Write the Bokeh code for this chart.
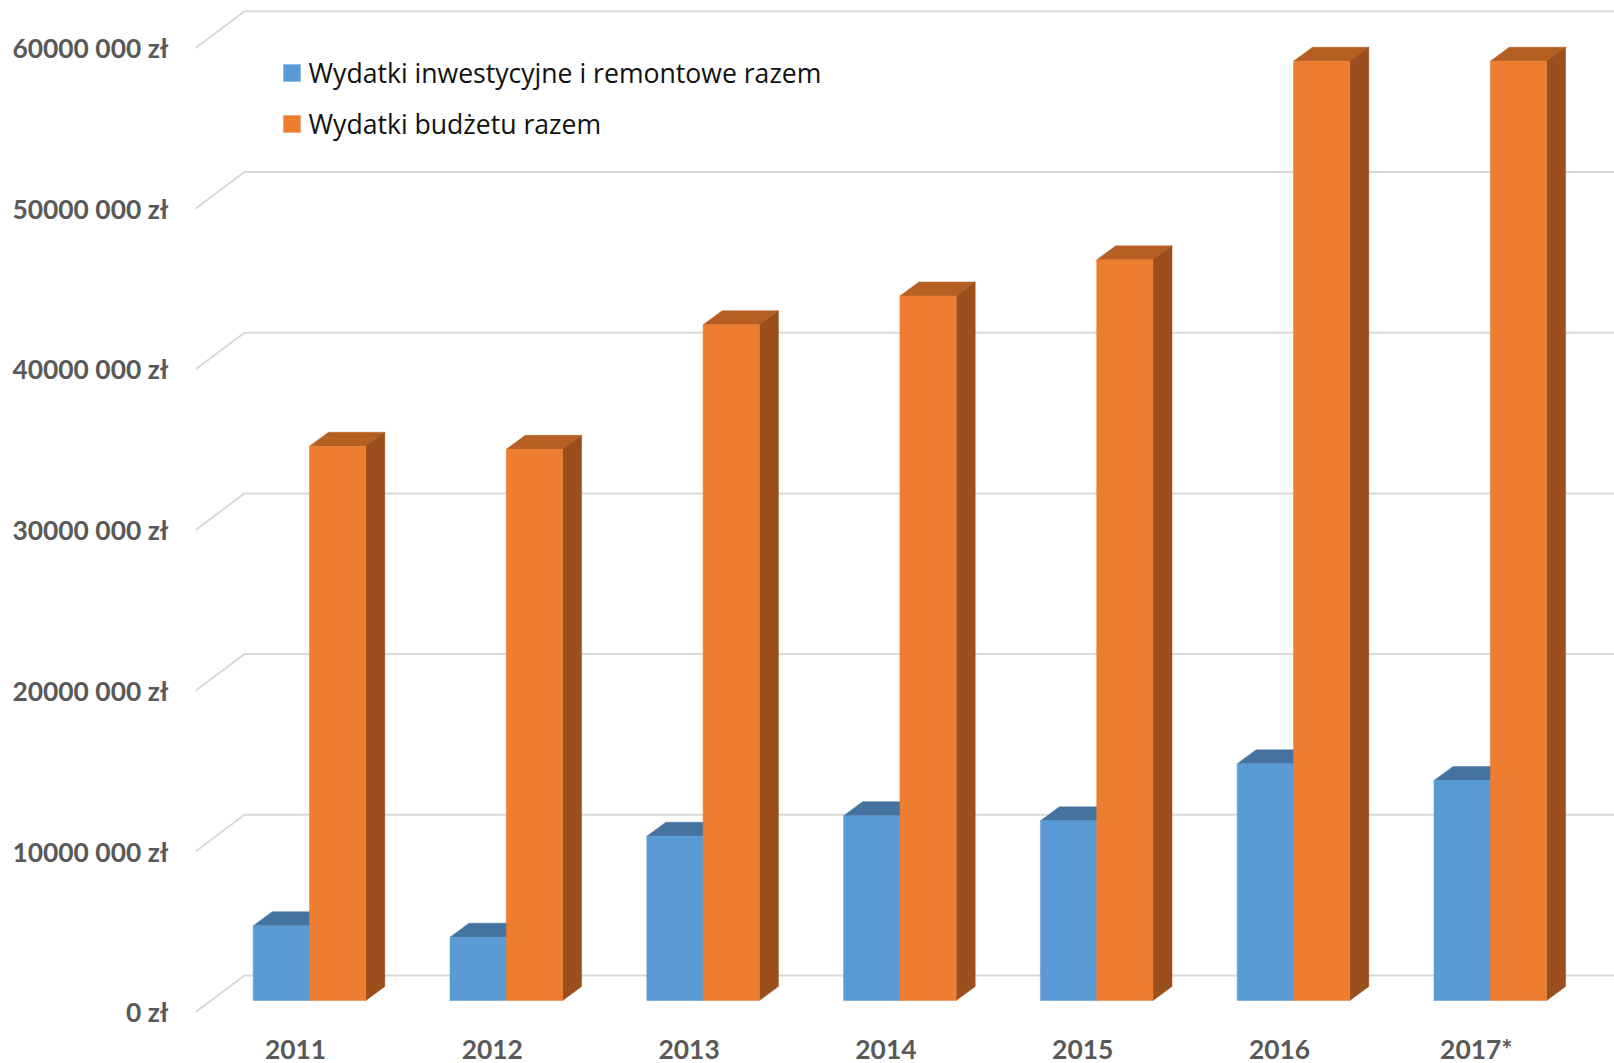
from bokeh.plotting import figure
from bokeh.models import Range1d, LinearAxis, FixedTicker, Legend, LegendItem
from bokeh.embed import file_html
from bokeh.resources import INLINE

years = ["2011", "2012", "2013", "2014", "2015", "2016", "2017*"]
invest = [4.65e6, 3.94e6, 10.22e6, 11.50e6, 11.18e6, 14.73e6, 13.69e6]
budget = [34.49e6, 34.30e6, 42.05e6, 43.84e6, 46.09e6, 58.45e6, 58.45e6]
y_ticks = [0, 10e6, 20e6, 30e6, 40e6, 50e6, 60e6]
y_labels = ["0 zł", "10000 000 zł", "20000 000 zł", "30000 000 zł",
            "40000 000 zł", "50000 000 zł", "60000 000 zł"]
series_names = ["Wydatki inwestycyjne i remontowe razem", "Wydatki budżetu razem"]

# scale: pixels per unit
PX_X = 196.8            # px per category
PX_Y = 160.7 / 1e7      # px per zł
W, H = 1614, 1063
LEFT, BOTTOM_M = 195, 0
f_left, f_right = LEFT, W
f_top, f_bot = 0, H - BOTTOM_M

ORIGIN_X, ORIGIN_Y = 309.0, 1000.0     # page position of group 0, value 0 (bar front plane)
AXIS_X, AXIS_Y = 295.0, 1011.7         # the same for the axis labels (chart's front edge)
X_AXIS_PAGE_Y = 1023.0

xr = Range1d((f_left - ORIGIN_X) / PX_X, (f_right - ORIGIN_X) / PX_X)
yr = Range1d(-(f_bot - ORIGIN_Y) / PX_Y, (ORIGIN_Y - f_top) / PX_Y)

p = figure(width=W, height=H, x_range=xr, y_range=yr, output_backend="svg",
           toolbar_location=None, min_border_left=LEFT, min_border_right=0,
           min_border_top=0, min_border_bottom=BOTTOM_M,
           x_axis_type=None, y_axis_type=None,
           background_fill_color="white", border_fill_color="white")
p.outline_line_color = None
p.grid.visible = False

p.extra_x_ranges["front"] = Range1d((f_left - AXIS_X) / PX_X, (f_right - AXIS_X) / PX_X)
p.extra_y_ranges["front"] = Range1d(-(f_bot - AXIS_Y) / PX_Y, (AXIS_Y - f_top) / PX_Y)

TEXT_FONT = "Lato"
yax = LinearAxis(y_range_name="front", ticker=FixedTicker(ticks=y_ticks),
                 major_label_overrides=dict(zip(y_ticks, y_labels)))
xax = LinearAxis(x_range_name="front", ticker=FixedTicker(ticks=list(range(len(years)))),
                 major_label_overrides=dict(enumerate(years)),
                 fixed_location=-(X_AXIS_PAGE_Y - ORIGIN_Y) / PX_Y)
for ax in (yax, xax):
    ax.axis_line_color = None
    ax.major_tick_line_color = None
    ax.minor_tick_line_color = None
    ax.major_label_text_font = TEXT_FONT
    ax.major_label_text_font_style = "bold"
    ax.major_label_text_font_size = "26.4px"
    ax.major_label_text_color = "#595959"
yax.major_label_standoff = 21
xax.major_label_standoff = 3
p.add_layout(yax, "left")
p.add_layout(xax, "below")

# walls: floor-to-wall gridlines
front_dy, back_dy = -(AXIS_Y - ORIGIN_Y) / PX_Y, (ORIGIN_Y - 975.0) / PX_Y
x_front, x_back = (195.0 - ORIGIN_X) / PX_X, (244.0 - ORIGIN_X) / PX_X
xs, ys = [], []
for t in y_ticks:
    xs.append([x_front, x_back, xr.end])
    ys.append([t + front_dy, t + back_dy, t + back_dy])
p.multi_line(xs, ys, line_color="#d9d9d9", line_width=2)

BAR_W = 56.3 / PX_X
DX, DY = 19.0 / PX_X, 14.0 / PX_Y


def bars(values, off, front, top, side):
    cx = [i + off for i in range(len(values))]
    l = [c - BAR_W / 2 for c in cx]
    r = [c + BAR_W / 2 for c in cx]
    p.patches([[a, b, b + DX, a + DX] for a, b in zip(l, r)],
              [[v, v, v + DY, v + DY] for v in values],
              fill_color=top, line_color=top, line_width=0.5)
    p.patches([[b, b + DX, b + DX, b] for b in r],
              [[0, DY, v + DY, v] for v in values],
              fill_color=side, line_color=side, line_width=0.5)
    return p.vbar(x=cx, top=values, bottom=0, width=BAR_W,
                  fill_color=front, line_color=front, line_width=0.5)


r1 = bars(invest, -BAR_W / 2, "#5b9bd5", "#44739f", "#44739f")
r2 = bars(budget, BAR_W / 2, "#ed7d31", "#b55f22", "#9a4f1d")

legend = Legend(items=[LegendItem(label=series_names[0], renderers=[r1]),
                       LegendItem(label=series_names[1], renderers=[r2])],
                location=(290.5 - f_left - 10, f_bot - 141.8),
                background_fill_alpha=0, border_line_color=None,
                glyph_width=21, glyph_height=21, label_standoff=7,
                label_text_font="Open Sans", label_text_font_size="26.6px",
                label_text_color="#111111", label_height=17, spacing=15,
                margin=0, padding=10)
p.add_layout(legend, "center")

open("out.html", "w").write(file_html(p, INLINE))
